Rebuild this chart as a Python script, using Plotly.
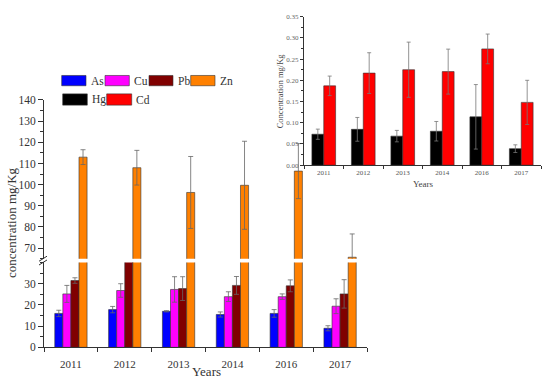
import plotly.graph_objects as go

# ---------------- data ----------------
years = ['2011', '2012', '2013', '2014', '2016', '2017']

As = [16.0, 17.8, 17.0, 15.5, 16.0, 9.0]
As_err = [1.5, 1.5, 0.3, 1.2, 1.8, 1.2]
Cu = [25.2, 26.8, 27.3, 23.9, 23.9, 19.4]
Cu_err = [4.0, 3.2, 6.0, 2.3, 1.3, 3.5]
Pb = [31.5, 50.0, 27.7, 29.2, 29.0, 25.2]
Pb_err = [1.3, 4.0, 5.6, 4.2, 2.8, 6.7]
Zn = [113.0, 108.0, 96.3, 99.7, 106.4, 65.7]
Zn_err = [3.5, 8.2, 17.0, 20.8, 13.0, 11.0]

Hg = [0.073, 0.0845, 0.0685, 0.080, 0.114, 0.039]
Hg_err = [0.012, 0.028, 0.0135, 0.023, 0.076, 0.009]
Cd = [0.187, 0.217, 0.225, 0.2205, 0.274, 0.148]
Cd_err = [0.023, 0.048, 0.065, 0.053, 0.035, 0.052]

main_series = [('As', As, As_err, '#0000FF'),
               ('Cu', Cu, Cu_err, '#FF00FF'),
               ('Pb', Pb, Pb_err, '#800000'),
               ('Zn', Zn, Zn_err, '#FF8000')]
inset_series = [('Hg', Hg, Hg_err, '#000000'),
                ('Cd', Cd, Cd_err, '#FF0000')]

W, H = 550, 387
FONT = 'Liberation Serif'


def px(x):
    return x / W


def py(y):
    return 1 - y / H


fig = go.Figure()

# main chart: lower and upper segments of the broken axis
for yax in ['y', 'y2']:
    for name, vals, errs, col in main_series:
        fig.add_trace(go.Bar(
            x=years, y=vals, name=name, xaxis='x', yaxis=yax,
            offsetgroup=name, showlegend=False,
            marker=dict(color=col, line=dict(color='#333333', width=0.6)),
            error_y=dict(type='data', array=errs, color='#666666',
                         thickness=0.8, width=2.5)))

# inset chart
for name, vals, errs, col in inset_series:
    fig.add_trace(go.Bar(
        x=years, y=vals, name=name, xaxis='x2', yaxis='y3',
        offsetgroup=name, showlegend=False,
        marker=dict(color=col, line=dict(color='#333333', width=0.6)),
        error_y=dict(type='data', array=errs, color='#777777',
                     thickness=0.8, width=2)))

axis_common = dict(showline=True, linecolor='#333333', linewidth=1,
                   showgrid=False, zeroline=False, ticks='outside',
                   tickcolor='#333333')

fig.update_layout(
    width=W, height=H,
    margin=dict(l=0, r=0, t=0, b=0),
    paper_bgcolor='white', plot_bgcolor='white',
    barmode='group', bargap=0.4, bargroupgap=0,
    showlegend=False,
    font=dict(family=FONT, color='#333333'),
    xaxis=dict(domain=[px(44), px(367)], anchor='y', type='category',
               tickson='boundaries', ticklen=4, range=[-0.5, 5.5],
               ticklabelstandoff=6,
               tickfont=dict(size=11, family=FONT, color='#333333'),
               **axis_common),
    yaxis=dict(domain=[py(352.3), py(264.7)], anchor='x', range=[0, 40],
               tickvals=[0, 10, 20, 30], ticklen=5,
               minor=dict(ticks='outside', dtick=5, ticklen=3, tickcolor='#333333'),
               tickfont=dict(size=11.5, family=FONT, color='#333333'),
               **axis_common),
    yaxis2=dict(domain=[py(260.8), py(97)], anchor='x', range=[65, 140],
                tickvals=[70, 80, 90, 100, 110, 120, 130, 140], ticklen=5,
                minor=dict(ticks='outside', tickvals=[65, 75, 85, 95, 105, 115, 125, 135],
                           ticklen=3, tickcolor='#333333'),
                tickfont=dict(size=11.5, family=FONT, color='#333333'),
                **axis_common),
    xaxis2=dict(domain=[px(304), px(541)], anchor='y3', type='category',
                tickson='boundaries', ticklen=3, range=[-0.5, 5.5],
                tickfont=dict(size=7, family=FONT, color='#555555'),
                **axis_common),
    yaxis3=dict(domain=[py(164.3), py(11)], anchor='x2', range=[0, 0.35],
                dtick=0.05, tickformat='.2f', ticklen=3,
                minor=dict(ticks='outside', dtick=0.025, ticklen=2, tickcolor='#333333'),
                tickfont=dict(size=7, family=FONT, color='#666666'),
                **axis_common),
)

annotations = [
    dict(x=px(11), y=py(224), text='concentration mg/Kg', textangle=-90,
         font=dict(size=13, family=FONT, color='#333333')),
    dict(x=px(206), y=py(377), text='Years',
         font=dict(size=13, family=FONT, color='#333333')),
    dict(x=px(280), y=py(87), text='Concentration mg/Kg', textangle=-90,
         font=dict(size=8.5, family=FONT, color='#444444')),
    dict(x=px(423), y=py(184), text='Years',
         font=dict(size=9, family=FONT, color='#444444')),
]
for a in annotations:
    a['xanchor'] = 'center'
    a['yanchor'] = 'middle'

shapes = []
# axis break marks
for yc in (260.8, 264.7):
    shapes.append(dict(type='line', xref='paper', yref='paper',
                       x0=px(39), y0=py(yc + 2.6), x1=px(47), y1=py(yc - 2.6),
                       line=dict(color='#333333', width=1)))

# custom legend
legend_items = [
    ('As', '#0000FF', 61.7, 86.0, 71.7, 82.3),
    ('Cu', '#FF00FF', 105.0, 129.3, 71.7, 82.3),
    ('Pb', '#800000', 149.0, 173.0, 71.7, 82.3),
    ('Zn', '#FF8000', 190.7, 215.0, 71.7, 82.3),
    ('Hg', '#000000', 62.7, 87.3, 90.7, 102.3),
    ('Cd', '#FF0000', 106.7, 131.7, 90.7, 102.3),
]
for name, col, x0, x1, y0, y1 in legend_items:
    shapes.append(dict(type='rect', xref='paper', yref='paper',
                       x0=px(x0), x1=px(x1), y0=py(y1), y1=py(y0),
                       fillcolor=col, line=dict(color='#333333', width=0.6)))
    annotations.append(dict(x=px(x1 + 2.5), y=py((y0 + y1) / 2), text=name,
                            xanchor='left', yanchor='middle',
                            font=dict(size=11.5, family=FONT, color='#333333')))

for a in annotations:
    a.setdefault('xref', 'paper')
    a.setdefault('yref', 'paper')
    a.setdefault('showarrow', False)

fig.update_layout(annotations=annotations, shapes=shapes)

fig.write_html('out.html',
               config={'displayModeBar': False},
               post_script="document.body.style.margin='0';"
                           "document.body.style.padding='0';"
                           "document.body.style.overflow='hidden';")
